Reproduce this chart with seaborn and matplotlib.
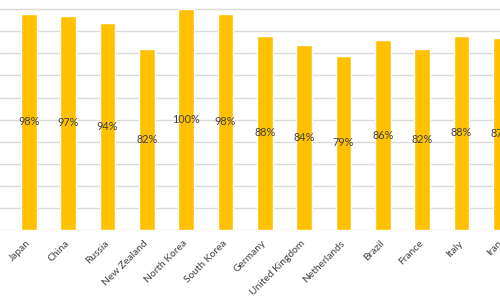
import matplotlib
matplotlib.use("Agg")
import matplotlib.pyplot as plt
import seaborn as sns

# --- Data ---
COUNTRIES = ['Japan', 'China', 'Russia', 'New Zealand', 'North Korea', 'South Korea',
             'Germany', 'United Kingdom', 'Netherlands', 'Brazil', 'France', 'Italy', 'Iran']
SHARE_PCT = [98, 97, 94, 82, 100, 98, 88, 84, 79, 86, 82, 88, 87]
GRID_TICKS = list(range(0, 101, 10))

BAR_COLOR = '#FFC000'
TEXT_COLOR = '#404040'
GRID_COLOR = '#D9D9D9'

sns.set_style('white')
plt.rcParams['font.family'] = ['Lato', 'DejaVu Sans']

fig = plt.figure(figsize=(5, 3), dpi=100)
# the chart is cropped on the right, so the axes run past the figure edge
ax = fig.add_axes([0, 0.2333, 1.0487, 0.7667])

sns.barplot(x=COUNTRIES, y=SHARE_PCT, color=BAR_COLOR, saturation=1, width=0.4, ax=ax)

# value labels in the middle of each bar
for i, v in enumerate(SHARE_PCT):
    ax.text(i, v / 2, f'{v}%', ha='center', va='center', fontsize=7.8, color=TEXT_COLOR)

ax.set_ylim(0, 104.2)
ax.set_xlim(-0.73, 12.6)
ax.set_yticks(GRID_TICKS)
ax.set_yticklabels([])
ax.yaxis.grid(True, color=GRID_COLOR, linewidth=1)
ax.set_axisbelow(True)
ax.tick_params(axis='both', length=0)
ax.tick_params(axis='x', pad=8.5, labelsize=7.4, labelcolor=TEXT_COLOR)
for lbl in ax.get_xticklabels():
    lbl.set_rotation(45)
    lbl.set_ha('right')
    lbl.set_va('center')
    lbl.set_rotation_mode('anchor')
ax.set_xlabel('')
ax.set_ylabel('')
for s in ax.spines.values():
    s.set_visible(False)

fig.savefig('out.png', dpi=100)
